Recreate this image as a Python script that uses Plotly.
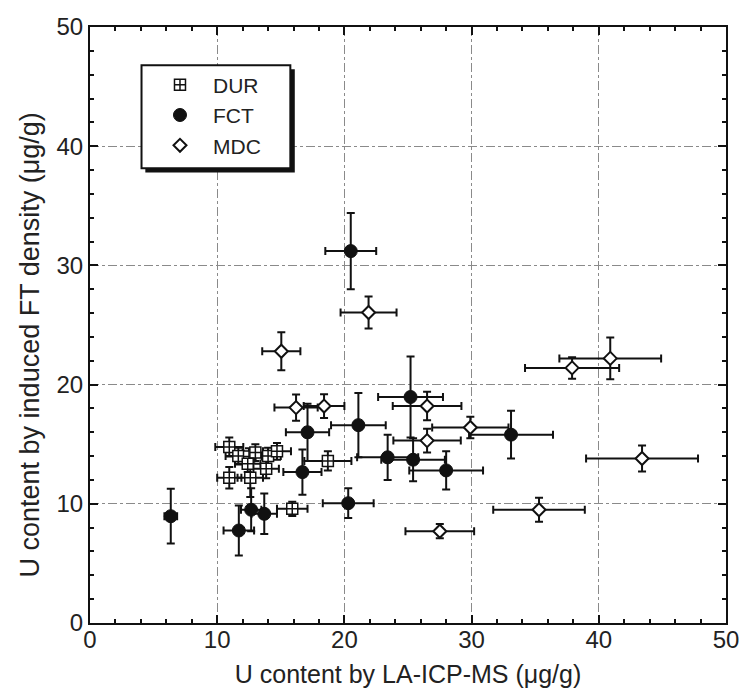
import plotly.graph_objects as go

# DUR
dur_x = [10.95, 11.66, 12.5, 13.0, 12.4, 14.0, 14.7, 13.85, 10.95, 12.6, 18.7, 15.9]
dur_y = [14.76, 14.0, 13.97, 14.3, 13.36, 14.0, 14.4, 12.94, 12.18, 12.18, 13.6, 9.58]
dur_xe = [1.1, 1.0, 1.0, 1.0, 1.0, 1.0, 1.1, 1.0, 0.95, 1.0, 1.85, 1.2]
dur_ye = [0.8, 0.7, 0.7, 0.7, 0.7, 0.7, 0.7, 0.8, 0.9, 1.6, 0.8, 0.6]

# FCT
fct_x = [6.35, 11.7, 12.67, 13.7, 16.7, 17.1, 20.3, 20.5, 21.1, 23.4, 25.2, 25.4, 28.0, 33.1]
fct_y = [8.96, 7.76, 9.5, 9.16, 12.66, 16.0, 10.05, 31.2, 16.6, 13.9, 18.96, 13.7, 12.8, 15.8]
fct_xe = [0.5, 1.2, 0.8, 1.0, 1.5, 1.7, 2.0, 2.0, 2.15, 2.4, 2.55, 2.5, 2.9, 3.3]
fct_ye = [2.3, 2.1, 1.8, 1.7, 1.9, 2.4, 1.25, 3.2, 2.7, 1.9, 3.4, 1.8, 1.6, 2.0]

# MDC
mdc_x = [15.04, 16.2, 18.4, 21.9, 26.5, 26.5, 27.5, 29.9, 35.3, 37.9, 40.9, 43.4]
mdc_y = [22.8, 18.07, 18.2, 26.05, 18.2, 15.3, 7.7, 16.4, 9.5, 21.4, 22.2, 13.8]
mdc_xe = [1.5, 1.7, 1.6, 2.2, 2.7, 2.65, 2.7, 3.0, 3.6, 3.7, 4.0, 4.4]
mdc_ye = [1.6, 1.1, 1.0, 1.35, 1.2, 1.0, 0.6, 0.9, 1.0, 0.9, 1.75, 1.1]

tick_vals = [0, 10, 20, 30, 40, 50]

FONT = "Liberation Sans, Arial, sans-serif"
err = dict(type="data", color="#111", thickness=2, width=4)

fig = go.Figure()
fig.add_trace(go.Scatter(
    x=dur_x, y=dur_y, mode="markers", name="DUR",
    error_x=dict(array=dur_xe, **err), error_y=dict(array=dur_ye, **err),
    marker=dict(symbol="square-cross", size=11, color="white",
                line=dict(color="#111", width=1.5))))
fig.add_trace(go.Scatter(
    x=fct_x, y=fct_y, mode="markers", name="FCT",
    error_x=dict(array=fct_xe, **err), error_y=dict(array=fct_ye, **err),
    marker=dict(symbol="circle", size=13, color="#111",
                line=dict(color="#111", width=1))))
fig.add_trace(go.Scatter(
    x=mdc_x, y=mdc_y, mode="markers", name="MDC",
    error_x=dict(array=mdc_xe, **err), error_y=dict(array=mdc_ye, **err),
    marker=dict(symbol="diamond", size=10, color="white",
                line=dict(color="#111", width=2))))

axis_common = dict(
    range=[0, 50], tickvals=tick_vals, ticks="inside", ticklen=8, tickwidth=1.5,
    tickcolor="#111", showline=True, linecolor="#111", linewidth=2,
    mirror="allticks", showgrid=True, gridcolor="#8a8a8a", gridwidth=1,
    griddash="dashdot", zeroline=False, automargin=False,
    ticklabeloverflow="allow",
    minor=dict(dtick=2, ticks="inside", ticklen=4, tickcolor="#111", showgrid=False),
    tickfont=dict(size=24, color="#222", family=FONT),
)

fig.update_layout(
    width=739, height=700,
    margin=dict(l=90, r=13, t=27, b=77),
    paper_bgcolor="white", plot_bgcolor="white",
    font=dict(family=FONT, color="#222"),
    xaxis=dict(**axis_common, ticklabelstandoff=-6,
               title=dict(text="U content by LA-ICP-MS (μg/g)", font=dict(size=25), standoff=14)),
    yaxis=dict(**axis_common),
    annotations=[
        dict(text="U content by induced FT density (μg/g)", xref="paper", yref="paper",
             x=-0.094, y=0.466, xanchor="center", yanchor="middle", textangle=-90,
             showarrow=False, font=dict(size=27, color="#222", family=FONT)),
    ],
    showlegend=True,
    legend=dict(x=0.0896, y=0.937, xanchor="left", yanchor="top",
                bgcolor="rgba(0,0,0,0)", borderwidth=0,
                font=dict(size=21, color="#222", family=FONT),
                itemwidth=56, tracegroupgap=0),
    shapes=[
        dict(type="rect", xref="paper", yref="paper",
             x0=0.087, x1=0.322, y0=0.756, y1=0.929,
             fillcolor="#111", line=dict(width=0), layer="above"),
        dict(type="rect", xref="paper", yref="paper",
             x0=0.081, x1=0.315, y0=0.763, y1=0.936,
             fillcolor="white", line=dict(color="#111", width=2), layer="above"),
    ],
)

fig.write_html("out.html", config={"displayModeBar": False},
               post_script="document.body.style.margin='0px';")
